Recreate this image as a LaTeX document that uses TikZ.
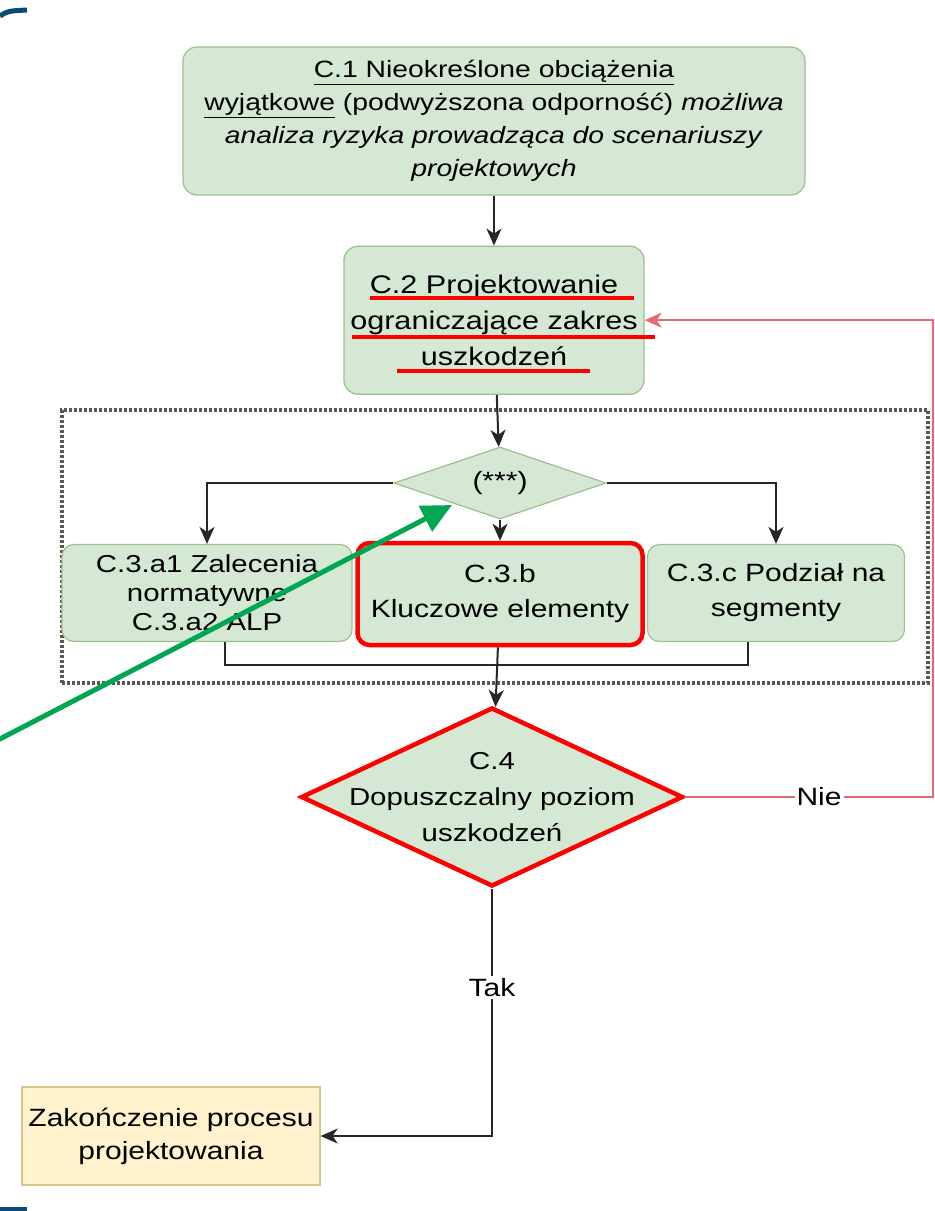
\documentclass[tikz,border=0pt]{standalone}
\usepackage{fontspec}
\setmainfont{Liberation Sans}[FakeStretch=1.2]
\usetikzlibrary{arrows.meta, positioning, shapes.geometric}
\definecolor{fcgreen}{HTML}{D5E8D4}
\definecolor{fcgreenline}{HTML}{9CBF8E}
\definecolor{fcyellow}{HTML}{FFF2CC}
\definecolor{fcyellowline}{HTML}{D9C48E}
\definecolor{fcred}{HTML}{FF0000}
\definecolor{fcpink}{HTML}{E46A74}
\definecolor{fcarrow}{HTML}{00A651}
\definecolor{fcnavy}{HTML}{0B4A75}
\definecolor{fcframe}{HTML}{5E5555}

\begin{document}
\begin{tikzpicture}[x=1pt, y=-1pt,
    font=\fontsize{25}{33}\selectfont,
    flowstep/.style={rectangle, rounded corners=14pt, draw=fcgreenline, line width=1.2pt,
                 fill=fcgreen, align=center, inner sep=0pt},
    decision/.style={diamond, draw=fcgreenline, line width=1.2pt, fill=fcgreen,
                 align=center, inner sep=0pt},
    endstep/.style={rectangle, draw=fcyellowline, line width=1.2pt, fill=fcyellow,
                 align=center, inner sep=0pt},
    flag/.style={draw=fcred, line width=4.5pt},
    group/.style={rectangle, draw=fcframe, line width=4pt, dash pattern=on 3pt off 2pt},
    link/.style={line width=2pt, draw=black!85},
    arr/.style={link, -{Stealth[length=17pt, width=15pt, inset=5pt]}},
    back/.style={line width=1.5pt, draw=fcpink, -{Stealth[length=17pt, width=15pt, inset=5pt]}},
    tag/.style={fill=white, inner sep=2pt}
  ]
  \useasboundingbox (0,0) rectangle (935,1211);

  % frame edges
  \draw[fcnavy, line width=5pt] (0,16) .. controls (8,11) .. (27,10);
  \draw[fcnavy, line width=4pt] (0,1209) -- (27,1209);

  \node[flowstep, minimum width=622pt, minimum height=148pt,
        font=\fontsize{23.6}{33}\selectfont] (c1) at (494,121)
    {\underline{C.1 Nieokreślone obciążenia}\\
     \underline{wyjątkowe} (podwyższona odporność) \textit{możliwa}\\
     \textit{analiza ryzyka prowadząca do scenariuszy}\\
     \textit{projektowych}};
  \node[flowstep, below=50pt of c1, minimum width=300pt, minimum height=148pt,
        font=\fontsize{25.5}{36}\selectfont] (c2)
    {C.2 Projektowanie\\ ograniczające zakres\\ uszkodzeń};

  % group around the C.3 variants
  \node[group, minimum width=866pt, minimum height=273pt] (grp) at (495,546.5) {};

  \node[decision, minimum width=212pt, minimum height=72pt, aspect=2.9] (c3) at (500,483) {(***)};
  \node[flowstep, rounded corners=12pt, minimum width=290pt, minimum height=97pt,
        font=\fontsize{24.5}{29}\selectfont] (c3a) at (207,593)
    {C.3.a1 Zalecenia\\ normatywne\\ C.3.a2 ALP};
  \node[flowstep, flag, rounded corners=12pt, minimum width=285pt, minimum height=102pt,
        font=\fontsize{25}{35}\selectfont] (c3b) at (500,594)
    {C.3.b\\ Kluczowe elementy};
  \node[flowstep, rounded corners=12pt, minimum width=257pt, minimum height=97pt,
        font=\fontsize{25}{35}\selectfont] (c3c) at (776,593)
    {C.3.c Podział na\\ segmenty};

  \node[decision, flag, minimum width=382pt, minimum height=179pt, aspect=2.13,
        inner sep=-16pt, font=\fontsize{24.5}{36}\selectfont] (c4) at (492,797)
    {C.4\\ Dopuszczalny poziom\\ uszkodzeń};

  \node[endstep, minimum width=298pt, minimum height=98pt] (done) at (171,1136)
    {Zakończenie procesu\\ projektowania};

  % red marks under C.2
  \draw[fcred, line width=4pt] (370,298) -- (634,298);
  \draw[fcred, line width=4pt] (352,337) -- (655,337);
  \draw[fcred, line width=4pt] (397,371) -- (590,371);

  \draw[arr] (c1) -- (c2);
  \draw[arr] (c2) -- (c3);
  \draw[arr] (c3.west) -| (c3a.north);
  \draw[arr] (c3) -- (c3b);
  \draw[arr] (c3.east) -| (c3c.north);
  \coordinate (join) at (499,665);
  \draw[link] ([xshift=18pt]c3a.south) |- (join) -| ([xshift=-28pt]c3c.south);
  \draw[arr] (c3b) -- (c4);

  \coordinate (loop) at (933,797);
  \draw[back] (c4.east) -- node[tag, pos=0.54] {Nie} (loop) |- (c2.east);
  \draw[arr] (c4.south) |- node[tag, pos=0.2] {Tak} (done.east);

  % pointer
  \coordinate (hintfrom) at (-4,741);
  \coordinate (hint) at (452,505);
  \draw[fcarrow, line width=5pt, -{Triangle[length=30pt, width=28pt]}] (hintfrom) -- (hint);
\end{tikzpicture}
\end{document}
